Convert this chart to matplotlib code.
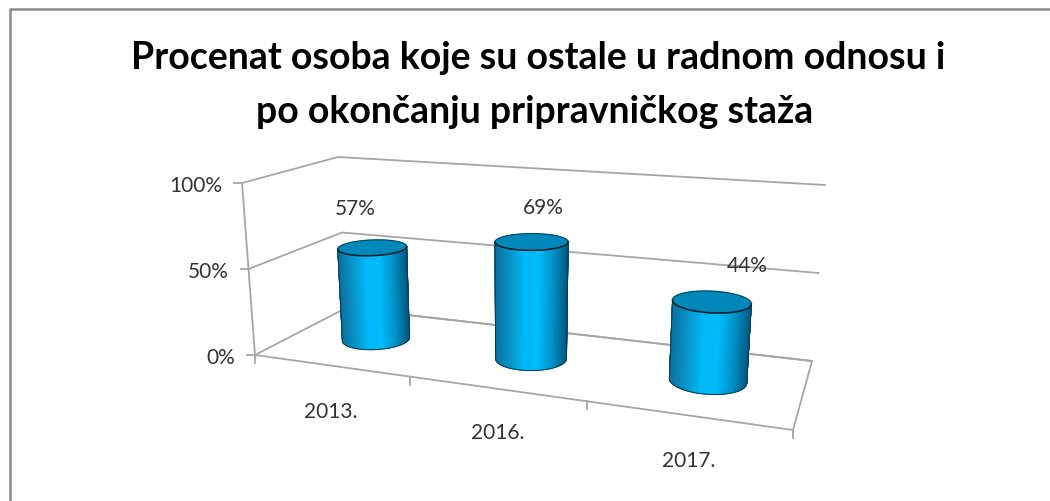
import numpy as np
import matplotlib
matplotlib.use("Agg")
import matplotlib.pyplot as plt
from matplotlib.collections import PolyCollection
from matplotlib.colors import LinearSegmentedColormap

# data
years = ["2013.", "2016.", "2017."]
shares = [57, 69, 44]
y_ticks = [0, 50, 100]

# where the 3d box sits in the picture: front-left, front-right, back-right, back-left
floor_px = [(255, 356), (793, 431), (812, 362), (346, 309)]
roof_px = [(242, 184), (807, 224), (825, 186), (338, 158)]

grey = "#a6a6a6"
text_col = "#333333"
shade = LinearSegmentedColormap.from_list(
    "cyl", ["#0a6f9e", "#0a93c8", "#00b9f6", "#00bcfa", "#0092c8", "#005a82"])


def homography(px):
    src = [(0, 0), (1, 0), (1, 1), (0, 1)]
    a, b = [], []
    for (u, d), (x, y) in zip(src, px):
        a.append([u, d, 1, 0, 0, 0, -u * x, -d * x])
        a.append([0, 0, 0, u, d, 1, -u * y, -d * y])
        b += [x, y]
    return np.append(np.linalg.solve(np.array(a, float), np.array(b, float)), 1).reshape(3, 3)


H_floor = homography(floor_px)
H_roof = homography(roof_px)


def project(u, d, val):
    # u across the categories, d into the depth, val in percent
    u, d = np.asarray(u, float), np.asarray(d, float)
    pts = np.stack([u, d, np.ones_like(u)])
    p0 = H_floor @ pts.reshape(3, -1)
    p1 = H_roof @ pts.reshape(3, -1)
    p0 = p0[:2] / p0[2]
    p1 = p1[:2] / p1[2]
    t = val / 100
    xy = p0 + (p1 - p0) * t
    return xy[0], xy[1]


fig = plt.figure(figsize=(10.5, 5.02), dpi=100)
ax = fig.add_axes([0, 0, 1, 1])
ax.set_xlim(0, 1050)
ax.set_ylim(502, 0)
ax.axis("off")
plt.rcParams["font.family"] = ["Lato", "DejaVu Sans"]

# outer frame, only left and top are in the crop
ax.plot([10, 10, 1050], [502, 10, 10], color="#8c8c8c", lw=1.8)

ax.text(538, 58, "Procenat osoba koje su ostale u radnom odnosu i", ha="center", va="center",
        fontsize=27, fontweight="bold", color="black")
ax.text(535, 112, "po okončanju pripravničkog staža", ha="center", va="center",
        fontsize=27, fontweight="bold", color="black")

# walls and gridlines
for val in y_ticks:
    xs, ys = project([0, 0, 1], [0, 1, 1], val)
    ax.plot(xs, ys, color=grey, lw=1.3, zorder=1)
    ax.plot([xs[0] - 8, xs[0]], [ys[0], ys[0]], color=grey, lw=1.3, zorder=1)
    ax.text(xs[0] - 20, ys[0] + 2, f"{val}%", ha="right", va="center", fontsize=15, color=text_col)

xs, ys = project([0, 0], [0, 0], 0), project([0, 0], [0, 0], 100)
ax.plot([xs[0][0], ys[0][0]], [xs[1][0], ys[1][0]], color=grey, lw=1.3, zorder=1)

# floor
xs, ys = project([0, 1, 1, 0], [0, 0, 1, 1], 0)
ax.plot(xs, ys, color=grey, lw=1.3, zorder=1)
for k in range(4):
    x, y = project(k / 3, 0, 0)
    ax.plot([x[0], x[0]], [y[0], y[0] + 8], color=grey, lw=1.3, zorder=1)

# cylinders
label_shift = [(-17, -40), (12, -35), (36, -37)]
year_shift = [(1, 46), (3, 44), (3, 45)]
r_u = 0.067
r_d = 0.2
height_fix = 0.97  # tops sit a bit under the projected height in the original
theta = np.linspace(np.pi - 0.7, 2 * np.pi + 0.7, 240)
ring = np.linspace(0, 2 * np.pi, 200)

for i, (yr, val) in enumerate(zip(years, shares)):
    uc = (i + 0.5) / 3 + 0.004
    dc = 0.5
    h = val * height_fix
    bx, by = project(uc + r_u * np.cos(theta), dc + r_d * np.sin(theta), 0)
    tx, ty = project(uc + r_u * np.cos(theta), dc + r_d * np.sin(theta), h)
    lo, hi = np.argmin(tx), np.argmax(tx)
    bx, by, tx, ty = bx[lo:hi + 1], by[lo:hi + 1], tx[lo:hi + 1], ty[lo:hi + 1]
    quads = [[(bx[j], by[j]), (bx[j + 1], by[j + 1]), (tx[j + 1], ty[j + 1]), (tx[j], ty[j])]
             for j in range(len(bx) - 1)]
    pos = (tx[:-1] - tx[0]) / (tx[-1] - tx[0])
    ax.add_collection(PolyCollection(quads, facecolors=shade(pos), edgecolors=shade(pos),
                                     linewidths=0.6, zorder=3))
    # outline
    ax.plot(np.r_[tx[0], bx, tx[-1]], np.r_[ty[0], by, ty[-1]], color="#0b3a52", lw=0.7, zorder=4)
    rx, ry = project(uc + r_u * np.cos(ring), dc + r_d * np.sin(ring), h)
    ax.fill(rx, ry, color="#0088bb", zorder=4)
    ax.plot(rx, ry, color="#0b3a52", lw=0.6, zorder=5)
    ax.plot(tx, ty, color="#06202e", lw=1.1, zorder=5)

    cx, cy = project(uc, dc, h)
    ax.text(cx[0] + label_shift[i][0], cy[0] + label_shift[i][1], f"{val}%", ha="center", va="center",
            fontsize=15, color=text_col, zorder=6)
    fx, fy = project((i + 0.5) / 3, 0, 0)
    ax.text(fx[0] + year_shift[i][0], fy[0] + year_shift[i][1], yr, ha="center", va="center",
            fontsize=15, color=text_col)

fig.savefig("out.png", dpi=100)
